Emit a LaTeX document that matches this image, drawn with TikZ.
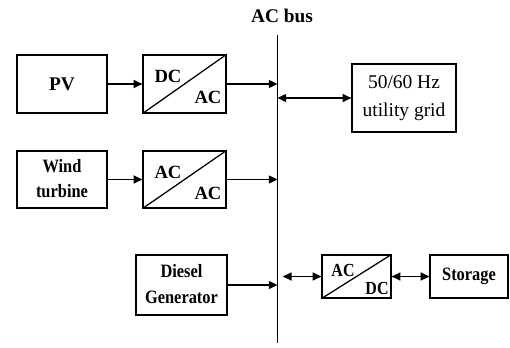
\documentclass[tikz,border=0pt]{standalone}
\usepackage{fontspec}
\setmainfont{Liberation Serif}
\usetikzlibrary{arrows.meta,calc}
\newcommand{\vst}[1]{\scalebox{1}[1.15]{#1}}
\begin{document}
\begin{tikzpicture}[x=0.75pt,y=-0.75pt,
  blk/.style={draw,line width=0.95pt,rectangle,inner sep=0pt,align=center},
  conn/.style={line width=0.95pt,-{Triangle[length=6.5pt,width=6pt]}},
  dconn/.style={line width=0.95pt,{Triangle[length=6.5pt,width=6pt]}-{Triangle[length=6.5pt,width=6pt]}},
  bigbf/.style={font=\fontsize{14.5}{17}\selectfont\bfseries},
  smbf/.style={font=\fontsize{12.3}{14}\selectfont\bfseries},
  cvbf/.style={font=\fontsize{14}{16}\selectfont\bfseries},
  cvsm/.style={font=\fontsize{12}{14}\selectfont\bfseries}]
\useasboundingbox (0,0) rectangle (510,347);
% bus
\coordinate (bustop) at (277.5,35);
\coordinate (busbot) at (277.5,343);
\draw[line width=0.95pt] (bustop) -- (busbot);
\node[bigbf] (buslabel) at (282,16) {AC bus};
% boxes
\node[blk,bigbf,minimum width=67.5pt,minimum height=43.5pt] (pv) at (62,84) {PV};
\node[blk,minimum width=62.25pt,minimum height=43.5pt] (dcac) at (184.5,84) {};
\node[blk,font=\fontsize{12.3}{16.3}\selectfont\bfseries,minimum width=67.5pt,minimum height=42.75pt] (wind) at (62,179.5) {\vst{\begin{tabular}{@{}c@{}}Wind\\turbine\end{tabular}}};
\node[blk,minimum width=62.25pt,minimum height=42.75pt] (acac) at (184.5,179.5) {};
\node[blk,font=\fontsize{14.6}{21}\selectfont,minimum width=78pt,minimum height=51pt] (grid) at (404,98) {50/60 Hz\\utility grid};
\node[blk,font=\fontsize{12.3}{17.4}\selectfont\bfseries,minimum width=68.25pt,minimum height=45pt] (diesel) at (181.5,285) {\vst{\begin{tabular}{@{}c@{}}Diesel\\Generator\end{tabular}}};
\node[blk,minimum width=51.75pt,minimum height=32.25pt] (acdc) at (356.5,276.5) {};
\node[blk,smbf,minimum width=58.5pt,minimum height=32.25pt] (stor) at (469,276.5) {\vst{Storage}};
% converter diagonals and labels
\draw[line width=0.95pt] (dcac.south west) -- (dcac.north east);
\draw[line width=0.95pt] (acac.south west) -- (acac.north east);
\draw[line width=0.95pt] (acdc.south west) -- (acdc.north east);
\node[cvbf] (dc1) at (168,76) {DC};
\node[cvbf] (ac1) at (208,97) {AC};
\node[cvbf] (ac2) at (168,172) {AC};
\node[cvbf] (ac3) at (208,193) {AC};
\node[cvsm] (ac4) at (343,270) {\vst{AC}};
\node[cvsm] (dc4) at (377,288) {\vst{DC}};
% connectors
\draw[conn] (pv.east) -- (dcac.west);
\draw[conn] (dcac.east) -- (dcac.east -| bustop);
\draw[conn] (wind.east) -- (acac.west);
\draw[conn] (acac.east) -- (acac.east -| bustop);
\draw[dconn] (grid.west -| bustop) -- (grid.west);
\draw[conn] (diesel.east) -- (diesel.east -| bustop);
\draw[dconn,shorten <=4pt] (acdc.west -| bustop) -- (acdc.west);
\draw[dconn] (acdc.east) -- (stor.west);
\end{tikzpicture}
\end{document}
